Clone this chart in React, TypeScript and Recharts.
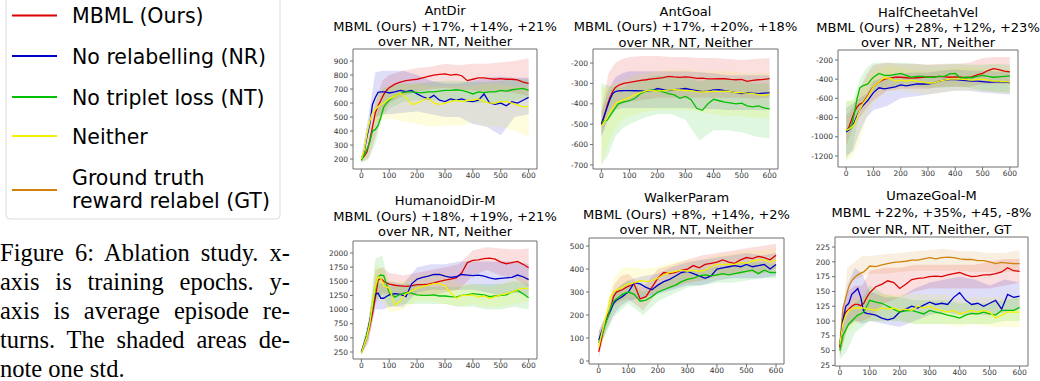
import { ComposedChart, Line, Area, XAxis, YAxis, ReferenceArea } from 'recharts';

// epochs at which the mean curves are sampled, and coarser ones for the std bands
const EPOCHS = [0, 10, 20, 30, 40, 50, 60, 70, 80, 90, 100, 120, 140, 160, 180, 200, 220, 240, 260, 280, 300,
  320, 340, 360, 380, 400, 420, 440, 460, 480, 500, 520, 540, 560, 580, 600];
const BAND_EPOCHS = [0, 25, 50, 75, 100, 150, 200, 250, 300, 350, 400, 450, 500, 550, 600];
const X_TICKS = [0, 100, 200, 300, 400, 500, 600];

const LEGEND_LABELS = ['MBML (Ours)', 'No relabelling (NR)', 'No triplet loss (NT)', 'Neither', 'Ground truth reward relabel (GT)'];

// AntDir
const antDirMean = {
  mbml: [200, 220, 250, 330, 430, 530, 580, 620, 660, 690, 710, 735, 750, 760, 765, 770, 780, 790, 800, 805, 808, 800, 805, 795, 760, 770, 780, 780, 775, 770, 775, 770, 770, 765, 750, 740],
  nr: [200, 250, 360, 450, 590, 640, 676, 680, 680, 678, 672, 680, 690, 682, 690, 665, 645, 630, 655, 620, 610, 630, 620, 630, 615, 610, 620, 665, 600, 590, 600, 580, 610, 600, 620, 640],
  nt: [190, 230, 270, 320, 400, 410, 440, 500, 570, 600, 620, 650, 670, 680, 680, 675, 675, 680, 680, 685, 690, 690, 695, 690, 680, 665, 680, 675, 680, 680, 690, 685, 695, 700, 705, 690],
  neither: [200, 260, 380, 470, 530, 555, 575, 590, 600, 615, 630, 650, 670, 640, 590, 600, 620, 635, 600, 590, 600, 610, 620, 610, 620, 620, 630, 610, 600, 600, 610, 610, 600, 585, 575, 575],
};
const antDirLow = {
  mbml: [180, 200, 350, 520, 600, 650, 680, 700, 710, 700, 690, 680, 680, 670, 650],
  nr: [180, 300, 500, 520, 520, 530, 540, 520, 500, 500, 450, 430, 370, 500, 520],
  nt: [170, 200, 300, 500, 560, 610, 620, 620, 620, 610, 600, 600, 600, 620, 630],
  neither: [180, 300, 450, 480, 490, 470, 450, 430, 440, 440, 460, 430, 430, 400, 360],
};
const antDirHigh = {
  mbml: [220, 300, 600, 760, 800, 830, 850, 860, 880, 870, 880, 880, 890, 900, 920],
  nr: [220, 500, 820, 830, 830, 830, 800, 760, 740, 740, 760, 780, 790, 780, 780],
  nt: [210, 280, 500, 700, 720, 740, 740, 750, 760, 760, 750, 750, 760, 770, 770],
  neither: [220, 450, 650, 700, 720, 740, 740, 720, 720, 720, 720, 740, 730, 720, 720],
};

// AntGoal
const antGoalMean = {
  mbml: [-500, -460, -410, -370, -340, -320, -310, -305, -300, -297, -295, -290, -285, -282, -278, -275, -272, -265, -268, -270, -268, -270, -275, -274, -278, -278, -276, -277, -280, -282, -280, -290, -285, -282, -280, -276],
  nr: [-500, -460, -420, -380, -350, -340, -337, -336, -335, -335, -335, -336, -337, -338, -335, -325, -330, -335, -330, -328, -325, -330, -335, -340, -338, -332, -330, -335, -340, -345, -350, -345, -348, -350, -348, -346],
  nt: [-490, -485, -480, -460, -440, -420, -400, -395, -390, -388, -385, -373, -350, -337, -332, -335, -342, -350, -356, -373, -364, -380, -422, -432, -400, -378, -385, -392, -395, -400, -397, -410, -415, -410, -420, -425],
  neither: [-510, -490, -470, -440, -420, -400, -390, -385, -380, -375, -370, -355, -345, -335, -335, -338, -335, -333, -330, -332, -335, -335, -340, -342, -340, -338, -340, -338, -340, -345, -345, -348, -350, -355, -358, -352],
};
const antGoalLow = {
  mbml: [-560, -450, -420, -400, -390, -380, -370, -370, -370, -370, -370, -370, -370, -375, -370],
  nr: [-560, -480, -430, -420, -420, -420, -420, -420, -420, -425, -425, -430, -430, -430, -430],
  nt: [-700, -650, -560, -520, -500, -470, -450, -450, -480, -580, -530, -530, -540, -560, -570],
  neither: [-700, -600, -520, -480, -460, -440, -430, -430, -430, -440, -450, -460, -460, -470, -470],
};
const antGoalHigh = {
  mbml: [-440, -250, -200, -180, -170, -165, -165, -170, -170, -175, -175, -180, -185, -180, -175],
  nr: [-440, -330, -270, -250, -240, -240, -240, -240, -240, -245, -250, -260, -260, -260, -260],
  nt: [-300, -310, -320, -320, -300, -280, -260, -270, -270, -290, -280, -280, -290, -300, -300],
  neither: [-320, -320, -300, -290, -270, -250, -240, -230, -230, -240, -240, -240, -250, -250, -250],
};

// HalfCheetahVel
const cheetahMean = {
  mbml: [-940, -900, -820, -740, -690, -660, -650, -610, -570, -520, -480, -430, -400, -390, -380, -380, -385, -390, -385, -380, -375, -375, -370, -375, -380, -375, -380, -385, -375, -355, -340, -310, -290, -300, -315, -325],
  nr: [-950, -930, -900, -850, -780, -720, -680, -650, -620, -580, -540, -490, -500, -490, -480, -460, -470, -460, -450, -450, -450, -440, -420, -410, -405, -405, -410, -415, -420, -420, -425, -430, -430, -425, -430, -435],
  nt: [-940, -920, -880, -760, -600, -490, -470, -460, -450, -410, -380, -340, -360, -360, -350, -340, -360, -380, -370, -370, -380, -380, -370, -370, -345, -340, -390, -380, -385, -370, -360, -370, -380, -375, -370, -365],
  neither: [-930, -920, -900, -870, -800, -720, -660, -620, -580, -530, -480, -430, -385, -390, -420, -410, -420, -410, -420, -430, -440, -440, -420, -410, -400, -400, -400, -405, -410, -405, -400, -410, -420, -420, -425, -430],
};
const cheetahLow = {
  mbml: [-1100, -900, -800, -700, -620, -520, -500, -500, -500, -480, -480, -480, -450, -450, -450],
  nr: [-1200, -1150, -950, -800, -720, -680, -600, -580, -560, -540, -520, -520, -540, -550, -560],
  nt: [-1250, -1100, -700, -600, -520, -480, -470, -480, -490, -490, -480, -490, -520, -530, -540],
  neither: [-1250, -1200, -1050, -800, -650, -520, -520, -540, -560, -540, -520, -520, -520, -540, -550],
};
const cheetahHigh = {
  mbml: [-780, -700, -500, -350, -250, -230, -240, -240, -250, -240, -240, -230, -180, -170, -170],
  nr: [-700, -650, -600, -550, -420, -370, -340, -330, -330, -310, -300, -310, -310, -320, -320],
  nt: [-630, -620, -400, -280, -230, -230, -230, -240, -250, -250, -240, -250, -250, -240, -250],
  neither: [-620, -620, -550, -400, -320, -260, -280, -300, -320, -300, -280, -280, -290, -300, -300],
};

// HumanoidDir-M
const humanoidMean = {
  mbml: [250, 380, 520, 700, 930, 1200, 1520, 1550, 1500, 1470, 1450, 1430, 1420, 1410, 1420, 1440, 1440, 1450, 1470, 1500, 1520, 1540, 1560, 1650, 1830, 1870, 1880, 1900, 1910, 1890, 1840, 1810, 1830, 1850, 1800, 1740],
  nr: [250, 400, 560, 800, 1050, 1270, 1290, 1200, 1200, 1230, 1260, 1280, 1270, 1230, 1450, 1540, 1570, 1590, 1620, 1620, 1590, 1570, 1580, 1620, 1610, 1600, 1610, 1590, 1560, 1540, 1550, 1560, 1570, 1610, 1580, 1530],
  nt: [230, 380, 550, 750, 1050, 1350, 1580, 1610, 1600, 1450, 1300, 1220, 1270, 1300, 1290, 1260, 1250, 1250, 1260, 1240, 1240, 1230, 1220, 1250, 1260, 1280, 1270, 1260, 1230, 1240, 1250, 1260, 1310, 1340, 1280, 1210],
  neither: [230, 380, 520, 750, 1100, 1400, 1580, 1550, 1420, 1400, 1380, 1080, 1150, 1280, 1330, 1380, 1410, 1430, 1460, 1460, 1420, 1300, 1200, 1250, 1250, 1260, 1220, 1240, 1200, 1230, 1260, 1280, 1310, 1350, 1380, 1370],
};
const humanoidLow = {
  mbml: [200, 400, 1100, 1300, 1250, 1250, 1250, 1250, 1300, 1350, 1600, 1700, 1600, 1550, 1400],
  nr: [200, 450, 1000, 1000, 1050, 1050, 1300, 1350, 1350, 1350, 1350, 1300, 1250, 1300, 1250],
  nt: [200, 500, 1200, 1250, 1050, 1100, 1100, 1100, 1100, 1050, 1050, 1000, 1000, 1050, 1000],
  neither: [200, 450, 1150, 1150, 950, 1000, 1150, 1150, 1100, 1050, 1100, 1050, 1050, 1100, 1150],
};
const humanoidHigh = {
  mbml: [280, 650, 1700, 1750, 1650, 1600, 1650, 1700, 1750, 1800, 2050, 2100, 2080, 2060, 2080],
  nr: [300, 800, 1500, 1450, 1500, 1450, 1750, 1800, 1800, 1850, 1850, 1850, 1850, 1850, 1800],
  nt: [280, 750, 1900, 1950, 1400, 1450, 1450, 1400, 1400, 1400, 1450, 1450, 1450, 1500, 1450],
  neither: [280, 750, 1800, 1700, 1500, 1500, 1600, 1650, 1650, 1450, 1450, 1400, 1450, 1550, 1600],
};

// WalkerParam
const walkerMean = {
  mbml: [40, 100, 165, 200, 225, 280, 300, 305, 310, 318, 325, 335, 270, 280, 320, 360, 385, 380, 385, 395, 400, 415, 405, 420, 425, 430, 440, 430, 425, 440, 450, 445, 455, 450, 440, 460],
  nr: [90, 130, 160, 190, 220, 250, 265, 272, 280, 290, 300, 340, 335, 320, 310, 330, 345, 355, 370, 385, 390, 380, 370, 360, 370, 400, 405, 410, 415, 410, 420, 410, 415, 420, 400, 420],
  nt: [80, 110, 150, 190, 230, 260, 270, 280, 290, 295, 300, 290, 260, 265, 280, 300, 310, 320, 330, 345, 355, 360, 370, 375, 370, 375, 380, 375, 380, 385, 390, 395, 380, 395, 385, 385],
  neither: [60, 120, 170, 220, 280, 300, 310, 315, 320, 330, 335, 340, 350, 345, 350, 360, 375, 385, 390, 395, 390, 395, 390, 395, 410, 420, 420, 420, 420, 430, 425, 435, 440, 440, 430, 440],
};
const walkerLow = {
  mbml: [10, 150, 240, 260, 270, 220, 300, 320, 340, 350, 370, 380, 390, 380, 400],
  nr: [60, 130, 200, 240, 260, 280, 290, 310, 330, 330, 350, 360, 360, 360, 370],
  nt: [60, 120, 190, 220, 250, 200, 260, 290, 320, 330, 340, 340, 350, 360, 360],
  neither: [40, 130, 220, 250, 270, 290, 300, 320, 340, 350, 360, 370, 380, 380, 390],
};
const walkerHigh = {
  mbml: [130, 200, 330, 370, 380, 320, 400, 420, 440, 460, 470, 480, 490, 500, 510],
  nr: [130, 200, 300, 330, 350, 370, 380, 410, 430, 440, 450, 460, 470, 460, 470],
  nt: [110, 180, 300, 330, 350, 300, 330, 370, 390, 400, 410, 420, 430, 430, 420],
  neither: [100, 220, 360, 400, 410, 400, 410, 430, 440, 440, 460, 470, 480, 480, 490],
};

// UmazeGoal-M
const umazeMean = {
  gt: [55, 120, 140, 158, 168, 174, 178, 181, 183, 188, 193, 192, 195, 197, 199, 200, 201, 203, 203, 205, 207, 205, 207, 208, 207, 205, 204, 204, 202, 202, 200, 197, 199, 198, 197, 197],
  mbml: [55, 100, 115, 120, 125, 128, 128, 126, 130, 140, 148, 158, 162, 168, 165, 155, 162, 170, 172, 173, 175, 176, 175, 178, 180, 182, 178, 175, 176, 178, 178, 180, 183, 190, 185, 184],
  nr: [60, 100, 125, 130, 145, 150, 155, 140, 115, 113, 112, 110, 105, 102, 105, 115, 120, 125, 122, 127, 132, 128, 130, 128, 140, 148, 135, 128, 130, 125, 130, 135, 120, 145, 140, 142],
  nt: [50, 75, 85, 95, 100, 105, 110, 112, 115, 125, 135, 132, 130, 125, 120, 115, 117, 118, 115, 112, 118, 115, 113, 110, 108, 105, 110, 113, 112, 115, 112, 110, 118, 118, 118, 123],
  neither: [60, 95, 110, 118, 120, 122, 122, 122, 122, 121, 120, 118, 122, 120, 122, 118, 120, 118, 125, 122, 125, 120, 118, 115, 118, 112, 115, 118, 115, 118, 115, 105, 110, 115, 115, 115],
};
const umazeLow = {
  gt: [50, 160, 170, 175, 180, 180, 183, 185, 185, 185, 185, 183, 183, 183, 183],
  mbml: [40, 90, 100, 100, 105, 130, 140, 150, 155, 155, 155, 155, 155, 160, 165],
  nr: [40, 90, 100, 95, 100, 95, 90, 100, 110, 115, 110, 110, 110, 115, 120],
  nt: [35, 50, 80, 90, 100, 100, 100, 95, 95, 95, 95, 95, 95, 100, 100],
  neither: [40, 80, 95, 100, 100, 100, 100, 95, 95, 95, 90, 95, 90, 90, 90],
};
const umazeHigh = {
  gt: [65, 190, 200, 210, 210, 213, 215, 218, 220, 222, 218, 218, 215, 215, 220],
  mbml: [80, 150, 160, 160, 185, 190, 190, 195, 195, 195, 195, 195, 200, 205, 205],
  nr: [80, 160, 190, 180, 150, 140, 140, 155, 165, 170, 175, 170, 160, 170, 165],
  nt: [75, 110, 130, 140, 160, 145, 140, 135, 135, 135, 130, 130, 130, 135, 140],
  neither: [75, 130, 140, 140, 145, 145, 145, 145, 145, 145, 135, 140, 140, 140, 140],
};

const COLORS: Record<string, string> = {
  mbml: '#dd0000',
  nr: '#0000cc',
  nt: '#00c000',
  neither: '#f2f200',
  gt: '#d0820c',
};
const LEGEND_KEYS = ['mbml', 'nr', 'nt', 'neither', 'gt'];

type Series = Record<string, number[]>;
type PanelSpec = {
  title: string[];
  titleY: number[];
  keys: string[];
  mean: Series;
  low: Series;
  high: Series;
  xDomain: [number, number];
  yDomain: [number, number];
  yTicks: number[];
  box: { x: number; y: number; w: number; h: number };
};

const BASE_KEYS = ['mbml', 'nr', 'nt', 'neither'];

const PANELS: PanelSpec[] = [
  {
    title: ['AntDir', 'MBML (Ours) +17%, +14%, +21%', 'over NR, NT, Neither'],
    titleY: [10.7, 26, 41.7],
    keys: BASE_KEYS, mean: antDirMean, low: antDirLow, high: antDirHigh,
    xDomain: [-30, 630], yDomain: [129, 986],
    yTicks: [200, 300, 400, 500, 600, 700, 800, 900],
    box: { x: 353, y: 49, w: 184, h: 120 },
  },
  {
    title: ['AntGoal', 'MBML (Ours) +17%, +20%, +18%', 'over NR, NT, Neither'],
    titleY: [11, 26, 42],
    keys: BASE_KEYS, mean: antGoalMean, low: antGoalLow, high: antGoalHigh,
    xDomain: [-30, 630], yDomain: [-720, -131],
    yTicks: [-700, -600, -500, -400, -300, -200],
    box: { x: 593, y: 49, w: 185, h: 120 },
  },
  {
    title: ['HalfCheetahVel', 'MBML (Ours) +28%, +12%, +23%', 'over NR, NT, Neither'],
    titleY: [12.7, 27.3, 42.7],
    keys: BASE_KEYS, mean: cheetahMean, low: cheetahLow, high: cheetahHigh,
    xDomain: [-30, 630], yDomain: [-1315, -96],
    yTicks: [-1200, -1000, -800, -600, -400, -200],
    box: { x: 838, y: 50, w: 180, h: 117 },
  },
  {
    title: ['HumanoidDir-M', 'MBML (Ours) +18%, +19%, +21%', 'over NR, NT, Neither'],
    titleY: [200.7, 216, 231.7],
    keys: BASE_KEYS, mean: humanoidMean, low: humanoidLow, high: humanoidHigh,
    xDomain: [-30, 630], yDomain: [126, 2212],
    yTicks: [250, 500, 750, 1000, 1250, 1500, 1750, 2000],
    box: { x: 353, y: 241, w: 184, h: 118 },
  },
  {
    title: ['WalkerParam', 'MBML (Ours) +8%, +14%, +2%', 'over NR, NT, Neither'],
    titleY: [197.3, 214, 229.3],
    keys: BASE_KEYS, mean: walkerMean, low: walkerLow, high: walkerHigh,
    xDomain: [-33, 627], yDomain: [-13, 535],
    yTicks: [0, 100, 200, 300, 400, 500],
    box: { x: 589, y: 238, w: 195, h: 126 },
  },
  {
    title: ['UmazeGoal-M', 'MBML +22%, +35%, +45, -8%', 'over NR, NT, Neither, GT'],
    titleY: [195, 212.7, 229.3],
    keys: ['gt', ...BASE_KEYS], mean: umazeMean, low: umazeLow, high: umazeHigh,
    xDomain: [-16, 628], yDomain: [24, 242],
    yTicks: [25, 50, 75, 100, 125, 150, 175, 200, 225],
    box: { x: 835, y: 237, w: 193, h: 129 },
  },
];

const YW = 34;
const XH = 18;
const PAD_TOP = 2;
const PAD_RIGHT = 8;
const AXIS_GRAY = '#6f6f6f';
const tickStyle = { fontSize: 7.5, fill: '#333', fontFamily: 'DejaVu Sans' };

const Subplot = ({ p }: { p: PanelSpec }) => {
  const rows = EPOCHS.map((x, i) => {
    const row: Record<string, number> = { x };
    p.keys.forEach((k) => {
      row[k] = p.mean[k][i];
    });
    return row;
  });
  const bands = (k: string) => BAND_EPOCHS.map((x, i) => ({ x, r: [p.low[k][i], p.high[k][i]] }));

  return (
    <div style={{ position: 'absolute', left: p.box.x - YW, top: p.box.y - PAD_TOP }}>
      <ComposedChart
        width={YW + p.box.w + PAD_RIGHT}
        height={PAD_TOP + p.box.h + XH}
        data={rows}
        margin={{ top: PAD_TOP, right: PAD_RIGHT, bottom: 0, left: 0 }}
      >
        <XAxis
          type="number"
          dataKey="x"
          domain={p.xDomain}
          allowDataOverflow
          ticks={X_TICKS}
          height={XH}
          axisLine={false}
          tickLine={{ stroke: AXIS_GRAY }}
          tickSize={3}
          tickMargin={1}
          tick={tickStyle}
        />
        <YAxis
          type="number"
          domain={p.yDomain}
          allowDataOverflow
          ticks={p.yTicks}
          width={YW}
          axisLine={false}
          tickLine={{ stroke: AXIS_GRAY }}
          tickSize={3}
          tickMargin={2}
          tick={tickStyle}
          interval={0}
        />
        {p.keys.map((k) => (
          <Area
            key={`band-${k}`}
            data={bands(k)}
            dataKey="r"
            type="linear"
            stroke="none"
            fill={COLORS[k]}
            fillOpacity={0.13}
            isAnimationActive={false}
          />
        ))}
        {p.keys.map((k) => (
          <Line
            key={`line-${k}`}
            dataKey={k}
            type="linear"
            stroke={COLORS[k]}
            strokeWidth={1.3}
            dot={false}
            isAnimationActive={false}
          />
        ))}
        <ReferenceArea
          x1={p.xDomain[0]}
          x2={p.xDomain[1]}
          y1={p.yDomain[0]}
          y2={p.yDomain[1]}
          fill="none"
          stroke={AXIS_GRAY}
          strokeWidth={1}
          ifOverflow="visible"
        />
      </ComposedChart>
    </div>
  );
};

const CAPTION_LINES = [
  'Figure 6: Ablation study. x-',
  'axis is training epochs.  y-',
  'axis is average episode re-',
  'turns. The shaded areas de-',
  'note one std.',
];

const Legend = () => {
  const lineY = [15.5, 56, 97, 136, 190];
  return (
    <svg width={300} height={230} style={{ position: 'absolute', left: 0, top: 0 }}>
      <rect x={6} y={-6} width={274} height={225} rx={4} fill="#fff" stroke="#dcdcdc" />
      {LEGEND_KEYS.map((k, i) => (
        <line key={k} x1={12} x2={57} y1={lineY[i]} y2={lineY[i]} stroke={COLORS[k]} strokeWidth={2.2} />
      ))}
      <g fontFamily="DejaVu Sans" fontSize={20.5} fill="#000">
        {LEGEND_LABELS.slice(0, 4).map((t, i) => (
          <text key={t} x={72} y={lineY[i] + 7.5}>{t}</text>
        ))}
        <text x={72} y={184.5}>Ground truth</text>
        <text x={72} y={207.5}>reward relabel (GT)</text>
      </g>
    </svg>
  );
};

const Caption = () => (
  <div
    style={{
      position: 'absolute',
      left: 0,
      top: 238,
      width: 290,
      fontFamily: 'Liberation Serif',
      fontSize: 24.5,
      lineHeight: '29px',
      color: '#000',
    }}
  >
    {CAPTION_LINES.map((t, i) => (
      <div
        key={t}
        style={{
          textAlign: i < CAPTION_LINES.length - 1 ? 'justify' : 'left',
          textAlignLast: i < CAPTION_LINES.length - 1 ? 'justify' : 'left',
          whiteSpace: 'normal',
          height: 29,
        }}
      >
        {t}
      </div>
    ))}
  </div>
);

const Titles = () => (
  <svg width={1040} height={381} style={{ position: 'absolute', left: 0, top: 0, pointerEvents: 'none' }}>
    <g fontFamily="DejaVu Sans" fontSize={13} fill="#000" textAnchor="middle">
      {PANELS.map((p) =>
        p.title.map((t, i) => (
          <text key={`${p.title[0]}-${i}`} x={p.box.x + p.box.w / 2} y={p.titleY[i] + 4.7}>{t}</text>
        ))
      )}
    </g>
  </svg>
);

const App = () => (
  <div style={{ position: 'absolute', left: 0, top: 0, width: 1040, height: 381, background: '#fff', overflow: 'hidden' }}>
    <Legend />
    <Caption />
    {PANELS.map((p) => (
      <Subplot key={p.title[0]} p={p} />
    ))}
    <Titles />
  </div>
);

export default App;
